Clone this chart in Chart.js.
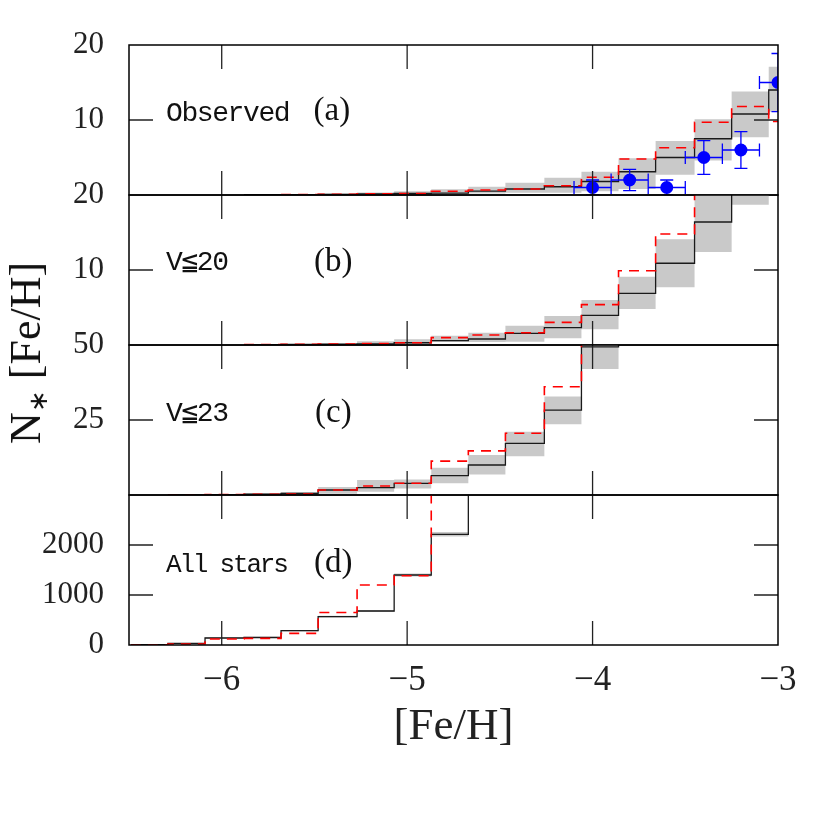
<!DOCTYPE html>
<html><head><meta charset="utf-8">
<script src="https://cdn.jsdelivr.net/npm/chart.js@4.4.1/dist/chart.umd.min.js"></script>
<style>
html,body{margin:0;padding:0;background:#fff;}
#wrap{position:relative;width:822px;height:822px;overflow:hidden;background:#fff;}
canvas{position:absolute;left:0;top:0;}
.lbl{position:absolute;white-space:nowrap;line-height:1;color:#111;}
.mono{font-family:"Liberation Mono",monospace;font-size:28px;letter-spacing:-1.4px;}
.mono2{font-family:"Liberation Mono",monospace;font-size:26px;letter-spacing:-2.2px;}
.ser{font-family:"Liberation Serif",serif;font-size:33px;}
#ytitle{position:absolute;left:26px;top:353px;font-family:"Liberation Serif",serif;font-size:44px;white-space:nowrap;line-height:1;color:#111;transform:translate(-50%,-50%) rotate(-90deg);}
#ytitle .sub{font-size:0.6em;position:relative;top:0.25em;}
</style></head>
<body><div id="wrap">
<canvas id="cA" width="822" height="822"></canvas>
<canvas id="cB" width="822" height="822"></canvas>
<canvas id="cC" width="822" height="822"></canvas>
<canvas id="cD" width="822" height="822"></canvas>
<div class="lbl mono" style="left:166px;top:99.5px;">Observed</div>
<div class="lbl ser" style="left:313.5px;top:93px;">(a)</div>
<div class="lbl mono" style="left:166px;top:248.5px;">V≦20</div>
<div class="lbl ser" style="left:314px;top:243.5px;">(b)</div>
<div class="lbl mono" style="left:166px;top:400px;">V≦23</div>
<div class="lbl ser" style="left:315px;top:395px;">(c)</div>
<div class="lbl mono2" style="left:166px;top:552px;">All stars</div>
<div class="lbl ser" style="left:314px;top:545px;">(d)</div>
<div id="ytitle">N<span class="sub">∗</span> [Fe/H]</div>
</div>
<script>
// ---------- data ----------
const binEdges = [-6.49, -6.29, -6.09, -5.88, -5.68, -5.48, -5.27, -5.07, -4.87, -4.67, -4.47, -4.26, -4.06, -3.86, -3.66, -3.45, -3.25, -3.05, -2.85];
const xTickValues = [-6, -5, -4, -3];

// panel (a) Observed
const modelA = [null,null,null,0.05,0.05,0.08,0.15,0.2,0.25,0.53,0.8,1.1,1.8,3.1,5.0,7.5,10.8,14.0];
const altA   = [null,null,null,null,0.05,0.1,0.15,0.2,0.5,0.67,0.8,1.24,2.36,4.8,6.3,9.7,11.8,9.8];
const lowA   = [null,null,null,0,0,0,0.05,0.1,0.13,0.2,0.31,0.3,0.5,0.8,2.7,4.6,7.7,11.1];
const highA  = [null,null,null,0.1,0.12,0.2,0.35,0.5,0.76,1.1,1.64,2.3,3.1,4.9,7.2,10.1,13.8,17.1];
const obsFeH    = [-4.0, -3.8, -3.6, -3.4, -3.2, -3.0];
const obsN      = [1, 2, 1, 5, 6, 15];
const obsNErr   = [1, 1.41, 1, 2.24, 2.45, 3.87];
const obsFeHErr = [0.1, 0.1, 0.1, 0.1, 0.1, 0.1];

// panel (b) V<=20
const modelB = [null,null,null,0.05,0.08,0.1,0.15,0.3,0.58,0.8,1.56,2.31,3.96,6.89,10.9,16.4,24,null];
const altB   = [null,null,null,0.05,0.08,0.12,0.2,0.3,0.98,1.33,1.64,3.02,5.38,9.91,14.8,22,null,null];
const lowB   = [null,null,null,0,0,0,0.05,0.13,0.4,0.4,0.44,0.89,2.1,4.8,7.7,12.4,18.7,24];
const highB  = [null,null,null,0.1,0.15,0.2,0.5,0.76,1.24,1.64,2.58,3.87,6.0,9.1,14.1,21,30,38];

// panel (c) V<=23
const modelC = [null,0.05,0.1,0.3,0.55,1.67,2.44,3.9,6.44,10,17.2,28.3,49.4,70,null,null,null,null];
const altC   = [null,0.05,0.15,0.2,0.3,1.67,3.0,3.9,11.3,14.7,20.6,36.1,60,null,null,null,null,null];
const lowC   = [null,0,0,0,0,0.4,1.1,2.2,3.9,6.8,12.9,23.6,42,60,null,null,null,null];
const highC  = [null,0.2,0.3,0.6,1.0,2.7,5.0,5.2,9.1,13.3,21.1,32.8,58,85,null,null,null,null];

// panel (d) All stars
const modelD = [5,33,140,150,287,567,680,1400,2213,4000,null,null,null,null,null,null,null,null];
const altD   = [0,20,120,133,233,650,1200,1385,3600,null,null,null,null,null,null,null,null,null];
const lowD   = [0,25,130,140,270,550,660,1370,2170,3500,null,null,null,null,null,null,null,null];
const highD  = [10,40,155,165,300,585,700,1430,2260,4500,null,null,null,null,null,null,null,null];

const yTicksA = [10, 20];
const yTicksB = [10, 20];
const yTicksC = [25, 50];
const yTicksD = [0, 1000, 2000];

// ---------- drawing ----------
const GRAY = '#c9c9c9';
const TICK = 24;
const SERIF = '"Liberation Serif", serif';

function stepPoints(values) {
  const pts = [];
  let last = -1;
  values.forEach((v, i) => { if (v !== null) { pts.push({x: binEdges[i], y: v}); last = i; } });
  if (last >= 0) pts.push({x: binEdges[last + 1], y: values[last]});
  return pts;
}

function histDatasets(model, alt, low, high) {
  return [
    {data: stepPoints(high), stepped: 'before', borderWidth: 0, borderColor: 'rgba(0,0,0,0)', pointRadius: 0, backgroundColor: GRAY, fill: '+1', order: 4},
    {data: stepPoints(low), stepped: 'before', borderWidth: 0, borderColor: 'rgba(0,0,0,0)', pointRadius: 0, fill: false, order: 5},
    {data: stepPoints(model), stepped: 'before', borderColor: '#1a1a1a', borderWidth: 1.3, pointRadius: 0, fill: false, order: 2},
    {data: stepPoints(alt), stepped: 'before', borderColor: '#ff0000', borderDash: [10, 7], borderWidth: 1.6, pointRadius: 0, fill: false, order: 1}
  ];
}

function framePlugin(yMarks, withErr) {
  return {
    id: 'frameTicks',
    afterDatasetsDraw(chart) {
      const {ctx, chartArea: a} = chart;
      const x = chart.scales.x, y = chart.scales.y;
      ctx.save();
      if (withErr) {
        ctx.save();
        ctx.beginPath();
        ctx.rect(a.left, a.top, a.right - a.left, a.bottom - a.top);
        ctx.clip();
        ctx.strokeStyle = '#0000ff';
        ctx.lineWidth = 1.3;
        ctx.beginPath();
        obsFeH.forEach((fx, i) => {
          const px = x.getPixelForValue(fx), py = y.getPixelForValue(obsN[i]);
          const x1 = x.getPixelForValue(fx - obsFeHErr[i]), x2 = x.getPixelForValue(fx + obsFeHErr[i]);
          const y1 = y.getPixelForValue(obsN[i] - obsNErr[i]), y2 = y.getPixelForValue(obsN[i] + obsNErr[i]);
          ctx.moveTo(x1, py); ctx.lineTo(x2, py);
          ctx.moveTo(x1, py - 6.5); ctx.lineTo(x1, py + 6.5);
          ctx.moveTo(x2, py - 6.5); ctx.lineTo(x2, py + 6.5);
          ctx.moveTo(px, y1); ctx.lineTo(px, y2);
          ctx.moveTo(px - 6.5, y1); ctx.lineTo(px + 6.5, y1);
          ctx.moveTo(px - 6.5, y2); ctx.lineTo(px + 6.5, y2);
        });
        ctx.stroke();
        ctx.restore();
      }
      ctx.strokeStyle = '#222';
      ctx.lineWidth = 1.3;
      ctx.beginPath();
      xTickValues.forEach(v => {
        const px = x.getPixelForValue(v);
        if (px > a.left + 1 && px < a.right - 1) {
          ctx.moveTo(px, a.top); ctx.lineTo(px, a.top + TICK);
          ctx.moveTo(px, a.bottom); ctx.lineTo(px, a.bottom - TICK);
        }
      });
      yMarks.forEach(v => {
        const py = y.getPixelForValue(v);
        if (py > a.top + 1 && py < a.bottom - 1) {
          ctx.moveTo(a.left, py); ctx.lineTo(a.left + TICK, py);
          ctx.moveTo(a.right, py); ctx.lineTo(a.right - TICK, py);
        }
      });
      ctx.stroke();
      ctx.strokeStyle = '#000';
      ctx.lineWidth = 1.5;
      ctx.strokeRect(a.left, a.top, a.right - a.left, a.bottom - a.top);
      ctx.restore();
    }
  };
}

function makePanel(id, datasets, yMax, yTicks, padTop, padBottom, isBottom, withErr) {
  return new Chart(document.getElementById(id), {
    type: 'line',
    data: {datasets},
    options: {
      responsive: false, animation: false, devicePixelRatio: 1,
      layout: {padding: {left: 0, right: 44, top: padTop, bottom: padBottom}},
      plugins: {legend: {display: false}, tooltip: {enabled: false}},
      scales: {
        x: {
          type: 'linear', min: -6.5, max: -3, display: isBottom,
          grid: {display: false, drawTicks: false}, border: {display: false},
          afterBuildTicks: s => { s.ticks = xTickValues.map(v => ({value: v})); },
          afterFit: s => { if (isBottom) s.height = 177; },
          ticks: {padding: 15, color: '#222', font: {family: SERIF, size: 35}, maxRotation: 0,
                  callback: v => (v < 0 ? '\u2212' : '') + Math.abs(v)},
          title: {display: isBottom, text: '[Fe/H]', color: '#222', font: {family: SERIF, size: 45}, padding: {top: 0, bottom: 68}}
        },
        y: {
          type: 'linear', min: 0, max: yMax, position: 'left',
          grid: {display: false, drawTicks: false}, border: {display: false},
          afterBuildTicks: s => { s.ticks = yTicks.map(v => ({value: v})); },
          afterFit: s => { s.width = 129; },
          ticks: {padding: 25, color: '#222', font: {family: SERIF, size: 31}, callback: v => String(v)}
        }
      }
    },
    plugins: [framePlugin(yTicks, withErr)]
  });
}

const obsSet = {
  data: obsFeH.map((fx, i) => ({x: fx, y: obsN[i]})),
  showLine: false, pointRadius: 6.5, pointHoverRadius: 6.5,
  pointBackgroundColor: '#0000ff', pointBorderColor: '#0000ff', pointBorderWidth: 0,
  borderColor: '#0000ff', order: 0
};

makePanel('cA', histDatasets(modelA, altA, lowA, highA).concat([obsSet]), 20, yTicksA, 45, 627, false, true);
makePanel('cB', histDatasets(modelB, altB, lowB, highB), 20, yTicksB, 195, 477, false, false);
makePanel('cC', histDatasets(modelC, altC, lowC, highC), 50, yTicksC, 345, 327, false, false);
makePanel('cD', histDatasets(modelD, altD, lowD, highD), 3000, yTicksD, 495, 0, true, false);
</script>
</body></html>
